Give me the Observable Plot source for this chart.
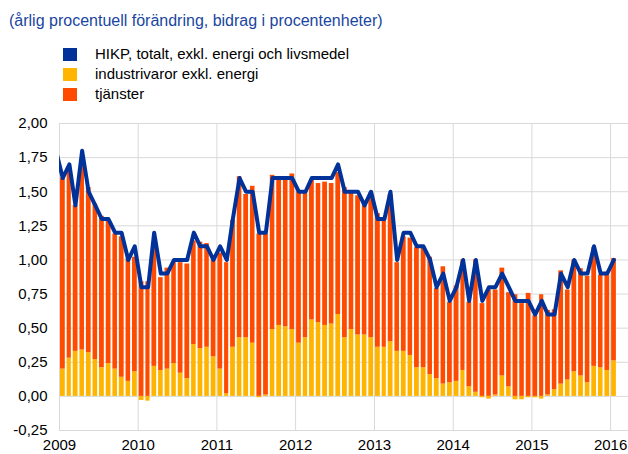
<!DOCTYPE html>
<html>
<head>
<meta charset="utf-8">
<script src="https://cdn.jsdelivr.net/npm/d3@7"></script>
<script src="https://cdn.jsdelivr.net/npm/@observablehq/plot@0.6"></script>
<style>
html,body{margin:0;padding:0;background:#fff;}
body{width:628px;height:454px;position:relative;overflow:hidden;font-family:"Liberation Sans",Arial,sans-serif;}
#title{position:absolute;left:9px;top:12px;font-size:16px;line-height:18px;color:#1a46a0;white-space:nowrap;}
#legend{position:absolute;left:63px;top:44px;}
.item{position:relative;height:20px;font-size:15px;line-height:20px;color:#000;}
.sw{position:absolute;left:0;top:4px;width:14px;height:13px;}
.lab{position:absolute;left:32px;top:0;white-space:nowrap;}
#chart{position:absolute;left:0;top:105px;}
</style>
</head>
<body>
<div id="title">(årlig procentuell förändring, bidrag i procentenheter)</div>
<div id="legend"></div>
<div id="chart"></div>
<script>
// Legend series
const seriesNames = ["HIKP, totalt, exkl. energi och livsmedel", "industrivaror exkl. energi", "tjänster"];
const seriesColors = ["#003299", "#ffb400", "#ff4b00"];

// First month of the bars (Jan 2009) ... last (Jan 2016): 85 months
const firstMonth = [2009, 0];
const monthCount = 85;

// Contribution of non-energy industrial goods (yellow)
const goods = [
  0.20, 0.28, 0.33, 0.34, 0.32, 0.27, 0.21, 0.24, 0.20, 0.14, 0.11, 0.18,
  -0.03, -0.035, 0.22, 0.19, 0.20, 0.24, 0.17, 0.13, 0.38, 0.35, 0.36, 0.29,
  0.20, 0.02, 0.36, 0.43, 0.43, 0.39, -0.01, 0.01, 0.49, 0.52, 0.51, 0.49,
  0.39, 0.43, 0.56, 0.54, 0.52, 0.53, 0.60, 0.43, 0.49, 0.45, 0.45, 0.43,
  0.36, 0.36, 0.40, 0.33, 0.33, 0.30, 0.21, 0.21, 0.16, 0.13, 0.09, 0.10,
  0.11, 0.19, 0.07, 0.03, -0.01, -0.02, 0.01, 0.15, 0.07, -0.025, -0.025, -0.01,
  -0.01, -0.02, 0.01, 0.05, 0.09, 0.12, 0.18, 0.15, 0.10, 0.22, 0.21, 0.19,
  0.26
];

// Contribution of services (orange-red)
const services = [
  1.40, 1.37, 1.07, 1.40, 1.21, 1.14, 1.11, 1.05, 0.99, 1.03, 0.90, 0.84,
  0.84, 0.84, 0.90, 0.68, 0.74, 0.74, 0.81, 0.84, 0.76, 0.78, 0.76, 0.71,
  0.85, 0.96, 0.93, 1.18, 1.05, 1.15, 1.19, 1.18, 1.13, 1.07, 1.08, 1.14,
  1.11, 1.06, 1.03, 1.02, 1.05, 1.03, 1.04, 1.10, 1.00, 1.02, 0.97, 1.06,
  0.98, 0.95, 1.08, 0.65, 0.84, 0.86, 0.88, 0.88, 0.86, 0.66, 0.86, 0.59,
  0.70, 0.81, 0.62, 0.97, 0.68, 0.78, 0.77, 0.79, 0.69, 0.745, 0.68, 0.755,
  0.59, 0.745, 0.62, 0.585, 0.83, 0.66, 0.82, 0.785, 0.78, 0.87, 0.68, 0.70,
  0.75
];

// HICP excl. energy and food (line), Dec 2008 value enters from the left edge
const coreBefore = 1.8;
const core = [
  1.6, 1.7, 1.4, 1.8, 1.5, 1.4, 1.3, 1.3, 1.2, 1.2, 1.0, 1.1,
  0.8, 0.8, 1.2, 0.9, 0.9, 1.0, 1.0, 1.0, 1.2, 1.1, 1.1, 1.0,
  1.1, 1.0, 1.3, 1.6, 1.5, 1.5, 1.2, 1.2, 1.6, 1.6, 1.6, 1.6,
  1.5, 1.5, 1.6, 1.6, 1.6, 1.6, 1.7, 1.5, 1.5, 1.5, 1.4, 1.5,
  1.3, 1.3, 1.5, 1.0, 1.2, 1.2, 1.1, 1.1, 1.0, 0.8, 0.9, 0.7,
  0.8, 1.0, 0.7, 1.0, 0.7, 0.8, 0.8, 0.9, 0.8, 0.7, 0.7, 0.7,
  0.6, 0.7, 0.6, 0.6, 0.9, 0.8, 1.0, 0.9, 0.9, 1.1, 0.9, 0.9,
  1.0
];

const yTicks = [-0.25, 0, 0.25, 0.5, 0.75, 1.0, 1.25, 1.5, 1.75, 2.0];
const xTickYears = [2009, 2010, 2011, 2012, 2013, 2014, 2015, 2016];

// legend
const leg = document.getElementById("legend");
seriesNames.forEach((n, i) => {
  const it = document.createElement("div");
  it.className = "item";
  it.innerHTML = `<span class="sw" style="background:${seriesColors[i]}"></span><span class="lab">${n}</span>`;
  leg.appendChild(it);
});

const m0 = new Date(Date.UTC(firstMonth[0], firstMonth[1], 1));
const months = d3.range(monthCount).map(i => d3.utcMonth.offset(m0, i));
const bars = [];
months.forEach((m, i) => bars.push({start: m, end: d3.utcMonth.offset(m, 1), series: "goods", value: goods[i]}));
months.forEach((m, i) => bars.push({start: m, end: d3.utcMonth.offset(m, 1), series: "services", value: services[i]}));
const linePts = [{date: d3.utcDay.offset(d3.utcMonth.offset(m0, -1), 15), value: coreBefore}]
  .concat(months.map((m, i) => ({date: d3.utcDay.offset(m, 15), value: core[i]})));
const xTickDates = xTickYears.map(y => new Date(Date.UTC(y, 0, 1)));

const chart = Plot.plot({
  width: 628,
  height: 349,
  marginTop: 18,
  marginBottom: 24,
  marginLeft: 59,
  marginRight: 0,
  style: {fontFamily: "'Liberation Sans', Arial, sans-serif", fontSize: "15px", color: "#000", background: "transparent", overflow: "visible"},
  x: {type: "utc", domain: [new Date(Date.UTC(2009, 0, 1)), new Date(Date.UTC(2016, 2, 24))],
      ticks: xTickDates, tickFormat: d3.utcFormat("%Y"), tickSize: 0, tickPadding: 9, label: null},
  y: {domain: [-0.25, 2], ticks: yTicks, tickSize: 0, tickPadding: 12, label: null,
      tickFormat: d => d.toFixed(2).replace(".", ",")},
  color: {domain: ["goods", "services"], range: [seriesColors[1], seriesColors[2]]},
  marks: [
    Plot.ruleY(yTicks, {stroke: "#d9d9d9", strokeWidth: 1}),
    Plot.ruleX(xTickDates, {stroke: "#d9d9d9", strokeWidth: 1}),
    Plot.rectY(bars, Plot.stackY({x1: "start", x2: "end", y: "value", fill: "series", insetLeft: 1, insetRight: 0.9})),
    Plot.lineY(linePts, {x: "date", y: "value", stroke: seriesColors[0], strokeWidth: 4, clip: true})
  ]
});
document.getElementById("chart").appendChild(chart);
</script>
</body>
</html>
